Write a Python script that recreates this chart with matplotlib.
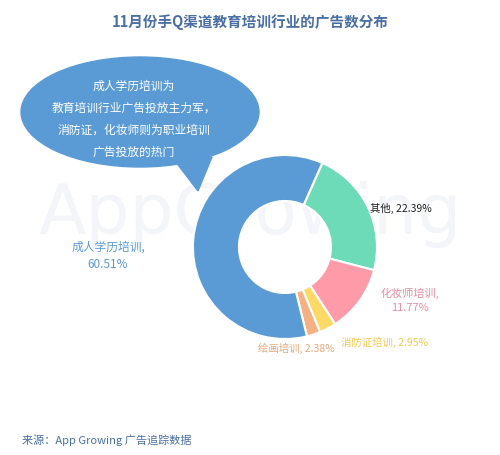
import matplotlib
matplotlib.use("Agg")
import matplotlib.pyplot as plt
from matplotlib.patches import Ellipse, Polygon

plt.rcParams['font.family'] = ['Noto Sans CJK SC', 'DejaVu Sans']

categories = ['其他', '化妆师培训', '消防证培训', '绘画培训', '成人学历培训']
values = [22.39, 11.77, 2.95, 2.38, 60.51]
colors = ['#6ddbb8', '#ff9aa8', '#ffd966', '#f4b183', '#5b9bd5']
explode = [0, 0, 0, 0, 0.07]

W, H = 500, 456
fig = plt.figure(figsize=(5, 4.56), dpi=100)
ax = fig.add_axes([0, 0, 1, 1])
ax.set_xlim(0, W); ax.set_ylim(0, H); ax.set_aspect('equal'); ax.axis('off')

# watermark
ax.text(250, H-215, 'AppGrowing', fontsize=50, color='#f4f5f9', ha='center', va='center',
        family=['DejaVu Sans'], zorder=0)

ax.pie(values, colors=colors, startangle=66, counterclock=False, explode=explode,
       center=(285, H-248), radius=92, wedgeprops=dict(width=46, edgecolor='white', linewidth=1.5),
       frame=True)
ax.set_xlim(0, W); ax.set_ylim(0, H); ax.axis('off')

ax.text(250, H-22, '11月份手Q渠道教育培训行业的广告数分布', ha='center', va='center',
        fontsize=10.5, fontweight='bold', color='#4a6fa5')

# speech bubble
ax.add_patch(Ellipse((140, H-113), 238, 110, color='#5b9bd5', zorder=5))
ax.add_patch(Polygon([(172, H-158), (212, H-158), (198, H-192)], color='#5b9bd5', zorder=5))
bubble_lines = ['成人学历培训为', '教育培训行业广告投放主力军，', '消防证，化妆师则为职业培训', '广告投放的热门']
for i, t in enumerate(bubble_lines):
    ax.text(134, H-(86 + i*22), t, ha='center', va='center', fontsize=8.5, color='white', zorder=6)

ax.text(108, H-256, '成人学历培训,\n60.51%', ha='center', va='center', fontsize=8.5,
        color='#5b9bd5', linespacing=1.5)
ax.text(370, H-208, '其他, 22.39%', ha='left', va='center', fontsize=7.5, color='#222222')
ax.text(410, H-300, '化妆师培训,\n11.77%', ha='center', va='center', fontsize=8,
        color='#e88ca0', linespacing=1.5)
ax.text(341, H-342, '消防证培训, 2.95%', ha='left', va='center', fontsize=7.5, color='#f2c94c')
ax.text(258, H-348, '绘画培训, 2.38%', ha='left', va='center', fontsize=7.5, color='#e6a87a')

ax.text(22, H-440, '来源：App Growing 广告追踪数据', ha='left', va='center', fontsize=8, color='#4a6fa5')

fig.savefig('out.png', dpi=100, facecolor='white')
